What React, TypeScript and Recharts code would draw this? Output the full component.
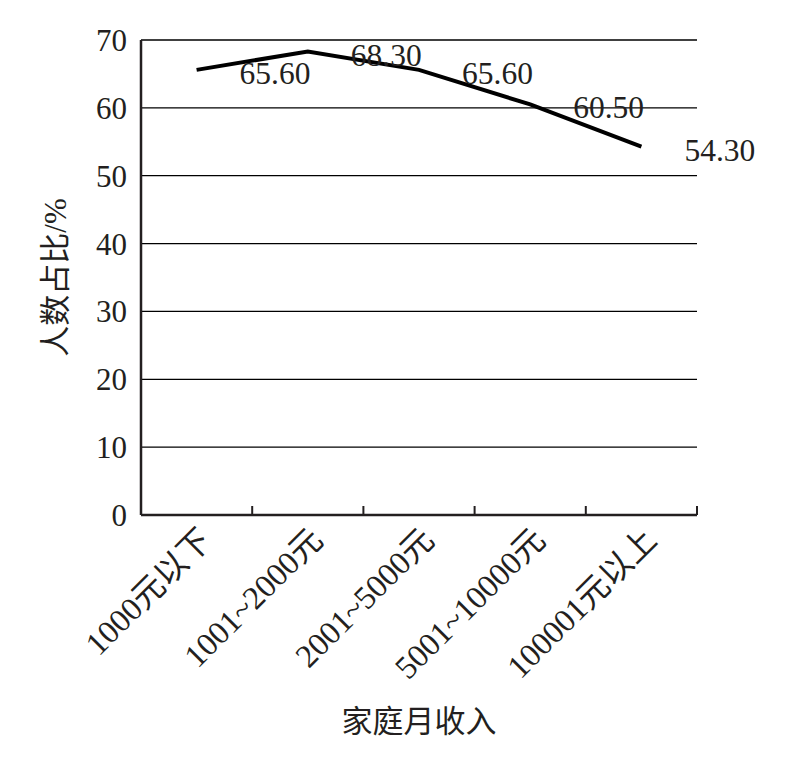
import React from 'react';
import { LineChart, Line, XAxis, YAxis, CartesianGrid, LabelList, Label } from 'recharts';

const categories = ['1000元以下', '1001~2000元', '2001~5000元', '5001~10000元', '100001元以上'];
const shares = [65.6, 68.3, 65.6, 60.5, 54.3];
const yTicks = [0, 10, 20, 30, 40, 50, 60, 70];
const xTitle = '家庭月收入';
const yTitle = '人数占比/%';

const data = categories.map((c, i) => ({ category: c, share: shares[i] }));

const W = 782;
const H = 750;
const margin = { top: 32, right: 93, left: 23, bottom: 0 };
const Y_AXIS_W = 110;
const X_AXIS_H = 243;
const plotWidth = W - margin.left - margin.right - Y_AXIS_W;
const band = plotWidth / categories.length;

const FONT = '"Liberation Serif", "Times New Roman", "Noto Sans CJK SC", serif';
const INK = '#231f20';

const XTick = (props: any) => {
  const { x, y, payload } = props;
  const ax = x + 17;
  const ay = y + 27;
  return (
    <g>
      <line x1={x + band / 2} x2={x + band / 2} y1={y} y2={y - 9} stroke={INK} strokeWidth={2} />
      <text
        x={ax}
        y={ay}
        transform={`rotate(-45, ${ax}, ${ay})`}
        textAnchor="end"
        fontFamily={FONT}
        fontSize={32.5}
        fill={INK}
      >
        {payload.value}
      </text>
    </g>
  );
};

const ValueLabel = (props: any) => {
  const { x, y, value } = props;
  return (
    <text x={x + 43} y={y + 3} dy="0.35em" textAnchor="start" fontFamily={FONT} fontSize={31.5} fill={INK}>
      {Number(value).toFixed(2)}
    </text>
  );
};

const renderYTitle = (props: any) => {
  const vb = props.viewBox;
  const cx = vb.x + 24;
  const cy = vb.y + vb.height / 2;
  return (
    <text
      x={cx}
      y={cy}
      transform={`rotate(-90, ${cx}, ${cy})`}
      textAnchor="middle"
      dominantBaseline="central"
      fontFamily={FONT}
      fontSize={31}
      fill={INK}
    >
      {yTitle}
    </text>
  );
};

const renderXTitle = (props: any) => {
  const vb = props.viewBox;
  const cx = vb.x + vb.width / 2;
  const cy = vb.y + 206;
  return (
    <text x={cx} y={cy} textAnchor="middle" dominantBaseline="central" fontFamily={FONT} fontSize={31} fill={INK}>
      {xTitle}
    </text>
  );
};

export default function App() {
  return (
    <div style={{ width: W, height: H, background: '#fff' }}>
      <LineChart width={W} height={H} data={data} margin={margin}>
        <CartesianGrid vertical={false} stroke="#000" strokeWidth={1.3} />
        <XAxis
          dataKey="category"
          height={X_AXIS_H}
          interval={0}
          padding={{ left: band / 2, right: band / 2 }}
          tickLine={false}
          tickSize={0}
          tickMargin={0}
          axisLine={{ stroke: INK, strokeWidth: 2.5 }}
          tick={<XTick />}
        >
          <Label content={renderXTitle} />
        </XAxis>
        <YAxis
          width={Y_AXIS_W}
          domain={[0, 70]}
          ticks={yTicks}
          interval={0}
          tickLine={false}
          tickSize={0}
          tickMargin={14}
          axisLine={{ stroke: INK, strokeWidth: 2.5 }}
          tick={{ fontFamily: FONT, fontSize: 31, fill: INK }}
        >
          <Label content={renderYTitle} />
        </YAxis>
        <Line
          dataKey="share"
          stroke="#000"
          strokeWidth={4}
          dot={false}
          isAnimationActive={false}
        >
          <LabelList dataKey="share" content={<ValueLabel />} />
        </Line>
      </LineChart>
    </div>
  );
}
